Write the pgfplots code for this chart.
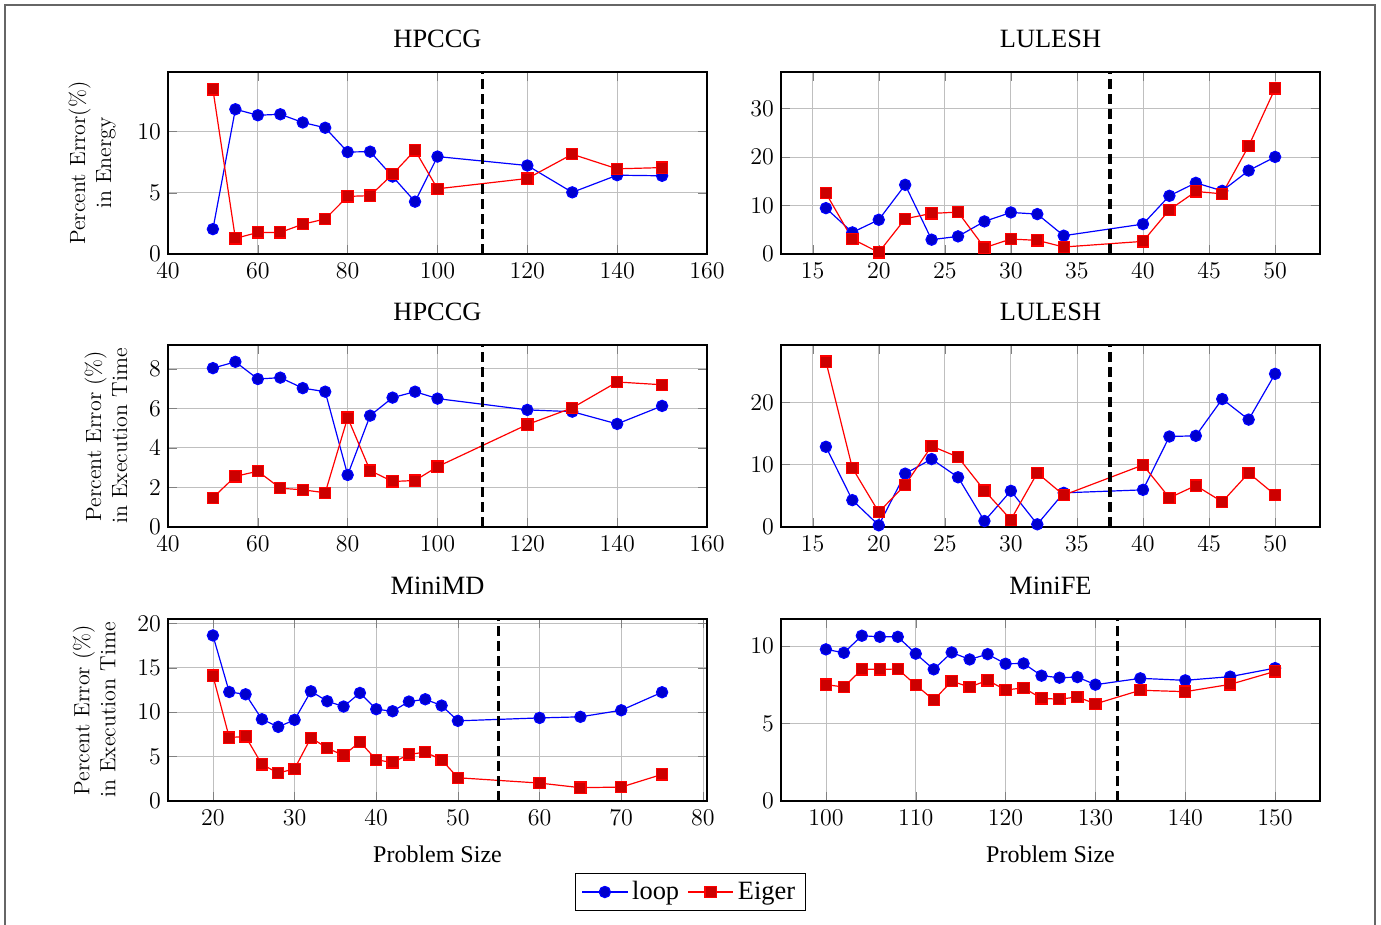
\documentclass[border=0pt]{standalone}
\usepackage{fontspec}
\setmainfont{Liberation Serif}
\usepackage{pgfplots}
\pgfplotsset{compat=1.18}

\newcommand\lm{\fontfamily{lmr}\fontsize{11}{13}\selectfont}
\newcommand\twelve{\fontsize{12}{14}\selectfont}
\newcommand\thirteen{\fontsize{13.2}{15}\selectfont}

\pgfplotsset{
  panel/.style={
    scale only axis, width=269.5pt, height=91pt, anchor=north west,
    ymin=0, grid=major, axis line style={line width=0.6pt},
    tick label style={font=\twelve},
    xticklabel style={yshift=-1pt},
    title style={font=\thirteen, yshift=2.5pt},
    ylabel style={font=\lm, align=center, yshift=4pt},
    xlabel style={font=\twelve, yshift=-3.5pt},
  },
  loop/.style={blue, line width=0.6pt, mark=*, mark size=2.8pt, mark options={fill=blue!80!black}},
  eiger/.style={red, line width=0.6pt, mark=square*, mark size=2.8pt, mark options={fill=red!80!black}},
}
\tikzset{cut/.style={black, line width=1.6pt, dash pattern=on 5pt off 2.5pt}}

\begin{document}
\begin{tikzpicture}
\useasboundingbox (0pt,0pt) rectangle (690.5pt,-462.5pt);
\draw[black!60, line width=0.6pt] (2.5pt,-462.5pt) -- (2.5pt,-2.5pt) -- (687.5pt,-2.5pt) -- (687.5pt,-462.5pt);

% HPCCG, energy
\begin{axis}[panel, at={(84pt,-36pt)}, title={HPCCG},
  xmin=40, xmax=160, ymax=14.85, xtick={40,60,...,160}, ytick={0,5,10},
  ylabel={Percent Error(\%)\\in Energy}]
\addplot[loop] coordinates {(50,2.03) (55,11.81) (60,11.32) (65,11.4) (70,10.73) (75,10.3) (80,8.32) (85,8.35) (90,6.32) (95,4.27) (100,7.95) (120,7.22) (130,5.03) (140,6.43) (150,6.38)};
\addplot[eiger] coordinates {(50,13.43) (55,1.27) (60,1.76) (65,1.76) (70,2.43) (75,2.86) (80,4.7) (85,4.76) (90,6.51) (95,8.46) (100,5.32) (120,6.16) (130,8.14) (140,6.95) (150,7.05)};
\draw[cut] (axis cs:110,0) -- (axis cs:110,14.85);
\end{axis}

% LULESH, energy
\begin{axis}[panel, at={(390.5pt,-36pt)}, title={LULESH},
  xmin=12.6, xmax=53.4, ymax=37.5, xtick={15,20,...,50}, ytick={0,10,20,30}]
\addplot[loop] coordinates {(16,9.45) (18,4.45) (20,7.05) (22,14.25) (24,2.95) (26,3.63) (28,6.71) (30,8.56) (32,8.22) (34,3.77) (40,6.16) (42,11.99) (44,14.66) (46,13.01) (48,17.19) (50,20.0)};
\addplot[eiger] coordinates {(16,12.53) (18,3.08) (20,0.34) (22,7.26) (24,8.36) (26,8.63) (28,1.3) (30,3.08) (32,2.81) (34,1.44) (40,2.6) (42,9.11) (44,12.88) (46,12.4) (48,22.26) (50,34.1)};
\draw[cut] (axis cs:37.5,0) -- (axis cs:37.5,37.5);
\end{axis}

% HPCCG, time
\begin{axis}[panel, at={(84pt,-172.5pt)}, title={HPCCG},
  xmin=40, xmax=160, ymax=9.2, xtick={40,60,...,160}, ytick={0,2,...,8},
  ylabel={Percent Error (\%)\\in Execution Time}]
\addplot[loop] coordinates {(50,8.03) (55,8.35) (60,7.48) (65,7.55) (70,7.02) (75,6.84) (80,2.63) (85,5.63) (90,6.54) (95,6.84) (100,6.49) (120,5.92) (130,5.83) (140,5.21) (150,6.12)};
\addplot[eiger] coordinates {(50,1.48) (55,2.56) (60,2.82) (65,1.96) (70,1.88) (75,1.73) (80,5.53) (85,2.85) (90,2.3) (95,2.35) (100,3.05) (120,5.18) (130,6.02) (140,7.33) (150,7.19)};
\draw[cut] (axis cs:110,0) -- (axis cs:110,9.2);
\end{axis}

% LULESH, time
\begin{axis}[panel, at={(390.5pt,-172.5pt)}, title={LULESH},
  xmin=12.6, xmax=53.4, ymax=29.2, xtick={15,20,...,50}, ytick={0,10,20}]
\addplot[loop] coordinates {(16,12.87) (18,4.31) (20,0.27) (22,8.56) (24,10.9) (26,7.98) (28,0.96) (30,5.8) (32,0.43) (34,5.48) (40,5.96) (42,14.52) (44,14.63) (46,20.53) (48,17.23) (50,24.57)};
\addplot[eiger] coordinates {(16,26.54) (18,9.47) (20,2.39) (22,6.76) (24,12.98) (26,11.22) (28,5.85) (30,1.17) (32,8.67) (34,5.11) (40,9.95) (42,4.68) (44,6.65) (46,4.04) (48,8.67) (50,5.16)};
\draw[cut] (axis cs:37.5,0) -- (axis cs:37.5,29.2);
\end{axis}

% MiniMD
\begin{axis}[panel, at={(84pt,-309.5pt)}, title={MiniMD},
  xmin=14.5, xmax=80.5, ymax=20.5, xtick={20,30,...,80}, ytick={0,5,...,20},
  ylabel={Percent Error (\%)\\in Execution Time}, xlabel={Problem Size},
  legend style={at={(0.969,-0.50)}, anchor=center, legend columns=2, font=\thirteen, draw=black,
    /tikz/every even column/.append style={column sep=2pt}},
  legend image code/.code={\draw[mark repeat=2, mark phase=2, line width=0.6pt] plot coordinates {(0cm,0cm) (0.4cm,0cm) (0.8cm,0cm)};}]
\addplot[loop] coordinates {(20,18.65) (22,12.28) (24,12.02) (26,9.21) (28,8.35) (30,9.14) (32,12.36) (34,11.24) (36,10.64) (38,12.17) (40,10.34) (42,10.11) (44,11.2) (46,11.46) (48,10.75) (50,9.03) (60,9.36) (65,9.48) (70,10.22) (75,12.25)};
\addlegendentry{loop}
\addplot[eiger] coordinates {(20,14.12) (22,7.15) (24,7.27) (26,4.12) (28,3.15) (30,3.63) (32,7.12) (34,5.96) (36,5.13) (38,6.67) (40,4.64) (42,4.34) (44,5.24) (46,5.51) (48,4.64) (50,2.62) (60,2.02) (65,1.5) (70,1.57) (75,3.0)};
\addlegendentry{Eiger}
\draw[cut] (axis cs:55,0) -- (axis cs:55,20.5);
\end{axis}

% MiniFE
\begin{axis}[panel, at={(390.5pt,-309.5pt)}, title={MiniFE},
  xmin=95, xmax=155, ymax=11.75, xtick={100,110,...,150}, ytick={0,5,10},
  xlabel={Problem Size}]
\addplot[loop] coordinates {(100,9.79) (102,9.57) (104,10.67) (106,10.6) (108,10.6) (110,9.51) (112,8.5) (114,9.59) (116,9.14) (118,9.48) (120,8.86) (122,8.88) (124,8.09) (126,7.96) (128,8.0) (130,7.51) (135,7.92) (140,7.79) (145,8.03) (150,8.58)};
\addplot[eiger] coordinates {(100,7.51) (102,7.36) (104,8.5) (106,8.5) (108,8.52) (110,7.49) (112,6.52) (114,7.73) (116,7.36) (118,7.79) (120,7.17) (122,7.3) (124,6.63) (126,6.57) (128,6.72) (130,6.27) (135,7.15) (140,7.06) (145,7.53) (150,8.37)};
\draw[cut] (axis cs:132.5,0) -- (axis cs:132.5,11.75);
\end{axis}
\end{tikzpicture}
\end{document}
